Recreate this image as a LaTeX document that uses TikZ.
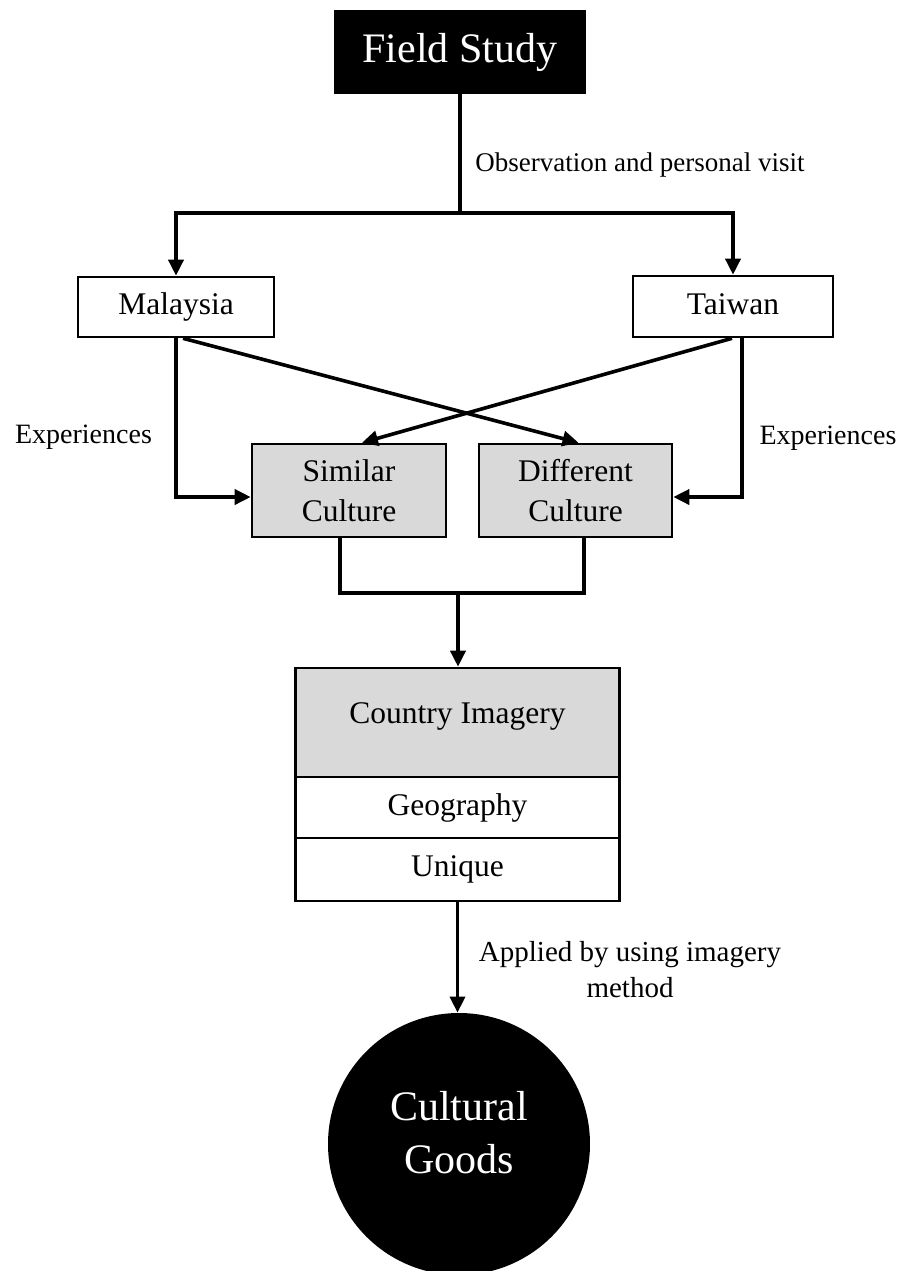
\documentclass[tikz,border=0pt]{standalone}
\usepackage{fontspec}
\setmainfont{Liberation Serif}
\usetikzlibrary{arrows.meta}
\tikzset{
  box/.style={draw, line width=1.3pt, inner sep=0pt, align=center, font=\fontsize{15.75}{20}\selectfont},
  onebox/.style={box, text height=11pt, text depth=3.5pt},
  shaded/.style={box, fill=black!15},
  flow/.style={line width=1.8pt},
  flowarrow/.style={flow, -{Triangle[length=8pt,width=7.5pt]}},
  edgetext/.style={font=\fontsize{14}{18}\selectfont, align=center, inner sep=0pt}
}
\begin{document}
\begin{tikzpicture}[x=0.5pt, y=-0.5pt]
\useasboundingbox (0,0) rectangle (904,1271);
% boxes
\node[box, fill=black, text=white, minimum width=125pt, minimum height=40.5pt, font=\fontsize{21}{26.5}\selectfont] (field) at (460,52) {Field Study};
\node[onebox, minimum width=98pt, minimum height=30pt] (mal) at (176,307) {Malaysia};
\node[onebox, minimum width=100pt, minimum height=30.5pt] (tai) at (733,306.5) {Taiwan};
\node[shaded, minimum width=97pt, minimum height=46.5pt] (sim) at (349,490.5) {Similar\\Culture};
\node[shaded, minimum width=96.5pt, minimum height=46.5pt] (dif) at (575.5,490.5) {Different\\Culture};
\node[shaded, minimum width=162pt, minimum height=54.5pt, text depth=9.8pt] (ci) at (457.5,722.5) {Country Imagery};
\node[box, minimum width=162pt, minimum height=30.5pt] (geo) at (457.5,807.5) {Geography};
\node[box, minimum width=162pt, minimum height=31.5pt] (uni) at (457.5,869.5) {Unique};
\node[circle, fill=black, text=white, minimum size=131pt, inner sep=0pt, align=center, font=\fontsize{21}{26.5}\selectfont, text depth=11.4pt] (goods) at (459,1144) {Cultural\\Goods};
% labels
\node[edgetext, anchor=west, font=\fontsize{13.5}{18}\selectfont] (obs) at (475,165) {Observation and personal visit};
\node[edgetext] (explft) at (83.5,437) {Experiences};
\node[edgetext] (exprgt) at (828,438) {Experiences};
\node[edgetext, font=\fontsize{14.5}{18}\selectfont] (applied) at (630,970) {Applied by using imagery\\method};
% connectors
\coordinate (split) at (460,213);
\draw[flow] (field.south) -- (split);
\draw[flowarrow] (split) -| (mal.north);
\draw[flowarrow] (split) -| (tai.north);
\draw[flowarrow] (mal.south) |- ([yshift=-3.25pt]sim.west);
\draw[flowarrow] ([xshift=4.5pt]tai.south) |- ([yshift=-3.25pt]dif.east);
\draw[flowarrow] ([xshift=3.5pt]mal.south) -- ([xshift=1.5pt]dif.north);
\draw[flowarrow] ([xshift=-0.5pt]tai.south) -- ([xshift=6.5pt]sim.north);
\coordinate (merge) at (458,593);
\draw[flow] ([xshift=-4.5pt]sim.south) |- (merge) -| ([xshift=4.25pt]dif.south);
\draw[flowarrow] (merge) -- (merge |- ci.north);
\draw[flowarrow] (uni.south) -- (uni.south |- goods.north);
\end{tikzpicture}
\end{document}
